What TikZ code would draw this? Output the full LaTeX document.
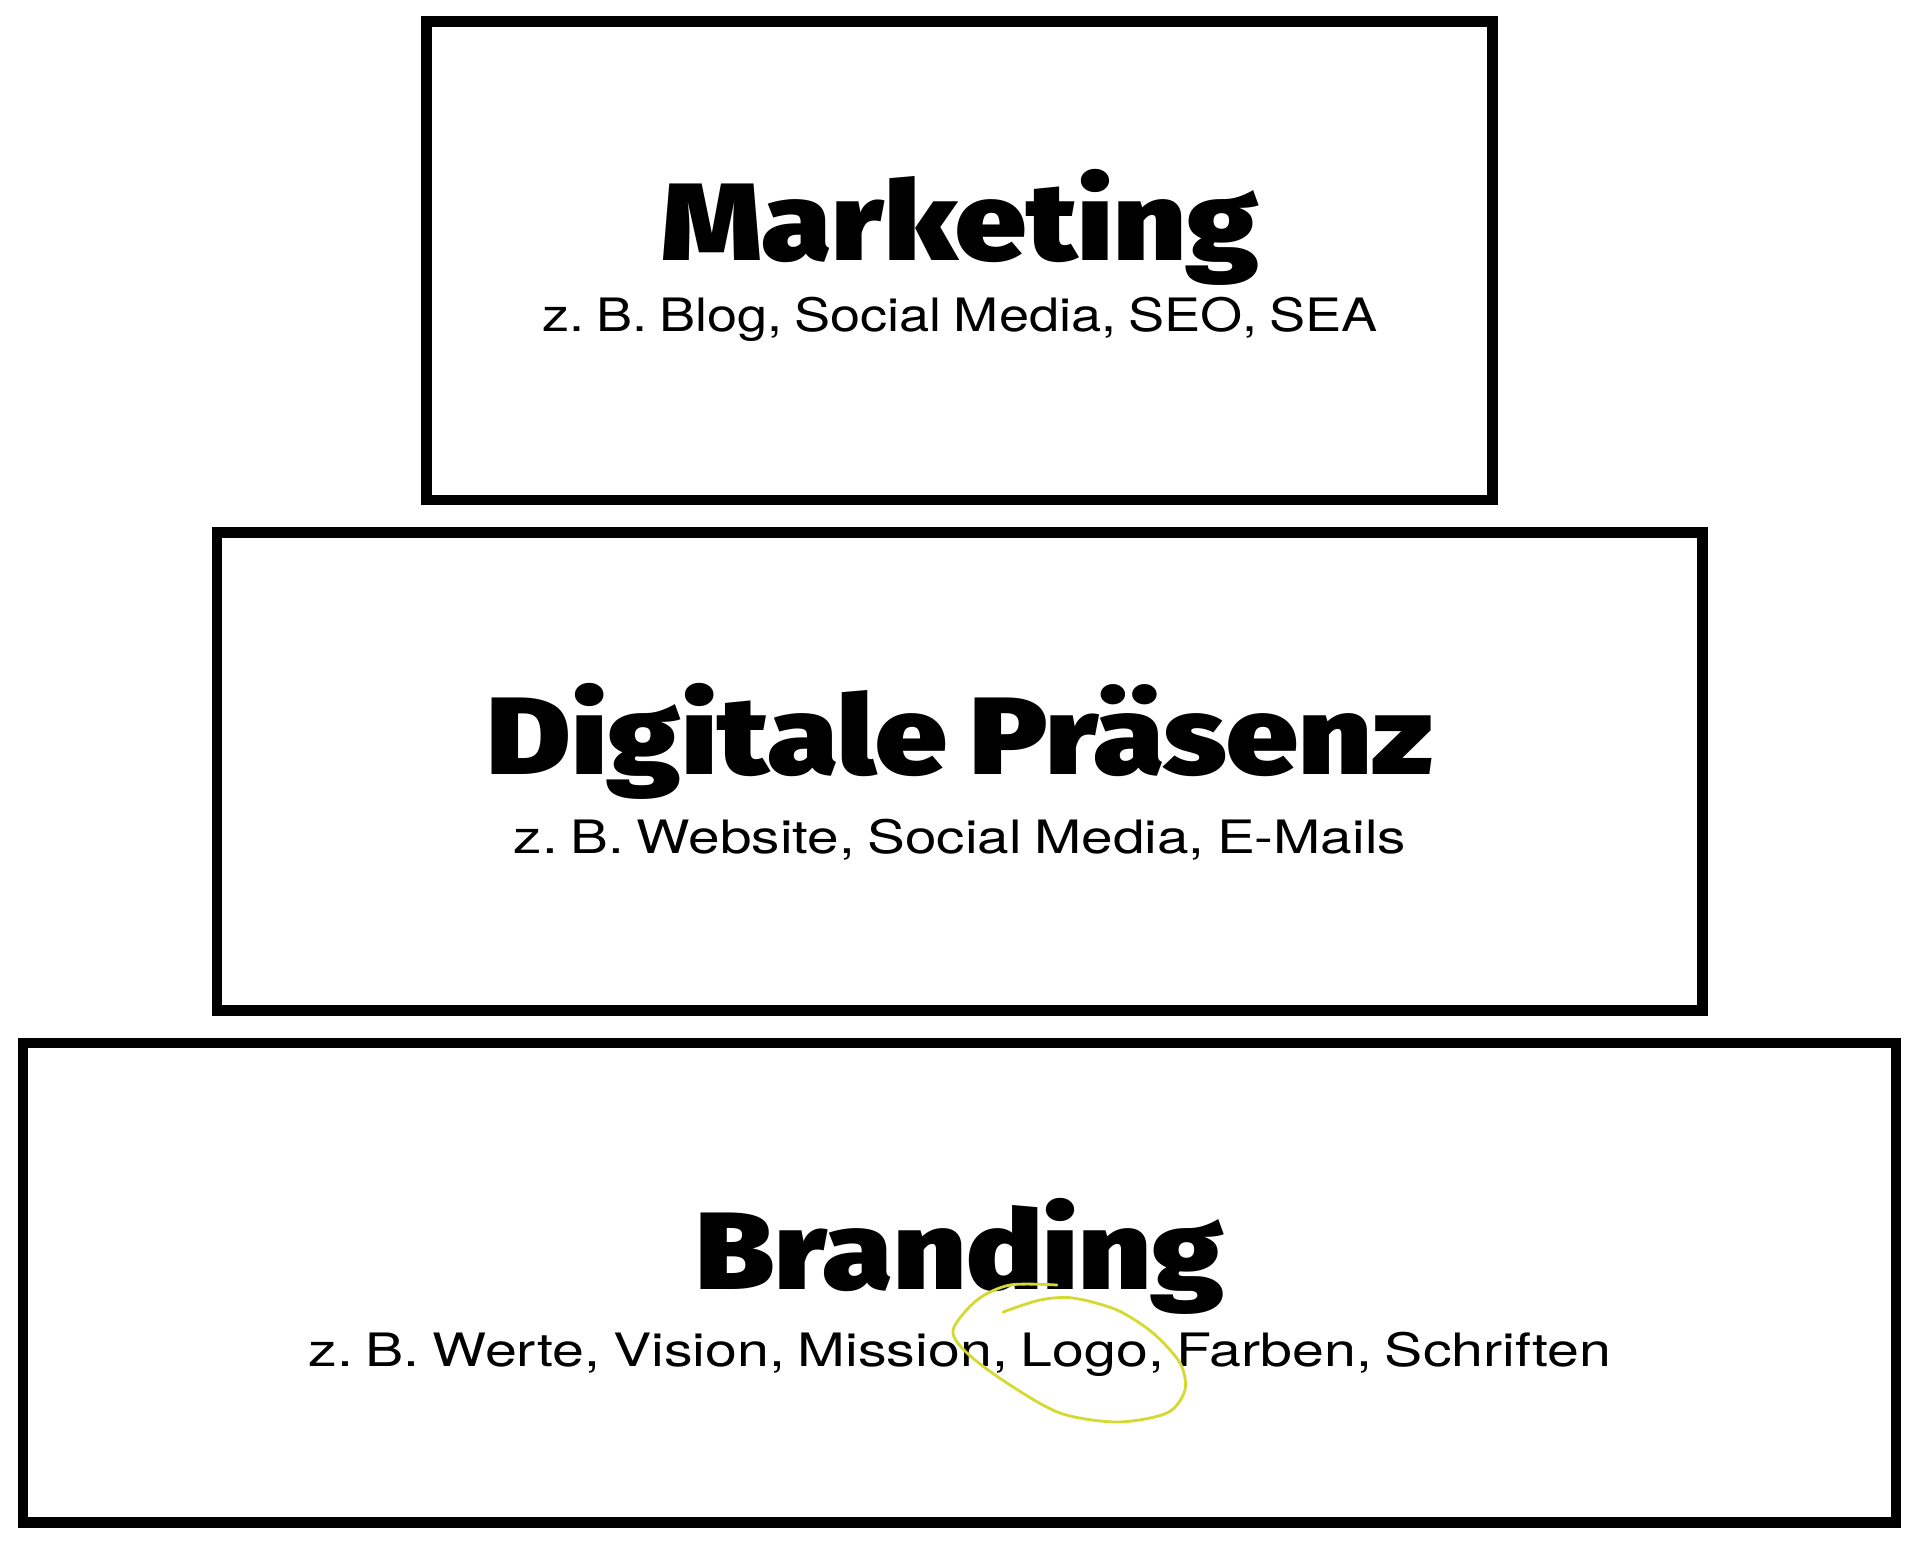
\documentclass[tikz,border=0pt]{standalone}
\usepackage{fontspec}
\setmainfont{TeX Gyre Heros}[WordSpace=0.8]
\newfontfamily\titlefont{Fira Sans Black}[WordSpace=0.8]
\usepackage{graphicx}
\usepackage{tikz}
\usepackage{xcolor}

\definecolor{resalte}{RGB}{212,218,50}
\newcommand{\ancho}[2]{\resizebox{#1}{\height}{#2}}
\tikzset{
  caja/.style={line width=10.5pt},
  titulo/.style={anchor=base, inner sep=0pt, font=\titlefont\fontsize{110}{120}\selectfont},
  ejemplo/.style={anchor=base, inner sep=0pt, font=\fontsize{46}{54}\selectfont\frenchspacing}
}

\begin{document}
\begin{tikzpicture}[x=1pt,y=-1pt]
            \useasboundingbox (0,0) rectangle (1920,1542);

            % Dibuja las tres cajas de la pirámide
            \draw[caja] (426.5,21.3) rectangle (1492.7,500);
            \draw[caja] (217,532.3) rectangle (1702.5,1010.7);
            \draw[caja] (22.8,1042.8) rectangle (1896,1522.3);

            % Títulos de cada nivel
            \node (marketing) at (960,260) [titulo] {\ancho{598pt}{Marketing}};
            \node (praesenz) at (960,774) [titulo] {\ancho{946pt}{Digitale Präsenz}};
            \node (branding) at (960,1289) [titulo] {\ancho{529pt}{Branding}};

            % Ejemplos debajo de los títulos
            \node (ejmarketing) at (960,331) [ejemplo] {\ancho{836pt}{z. B. Blog, Social Media, SEO, SEA}};
            \node (ejpraesenz) at (960,853) [ejemplo] {\ancho{892pt}{z. B. Website, Social Media, E-Mails}};
            \node (ejbranding) at (960,1366) [ejemplo] {\ancho{1303pt}{z. B. Werte, Vision, Mission, Logo, Farben, Schriften}};

            % Trazo a mano alrededor de "Logo"
            \draw[resalte, line width=2.8pt, line cap=round] plot[smooth] coordinates {
              (1003,1312) (1040,1300) (1073,1298) (1117,1310) (1153,1333) (1180,1363)
              (1185,1390) (1167,1413) (1117,1422) (1060,1413) (1007,1383) (967,1353)
              (953,1330) (977,1300) (1010,1285) (1057,1285)};
\end{tikzpicture}
\end{document}
